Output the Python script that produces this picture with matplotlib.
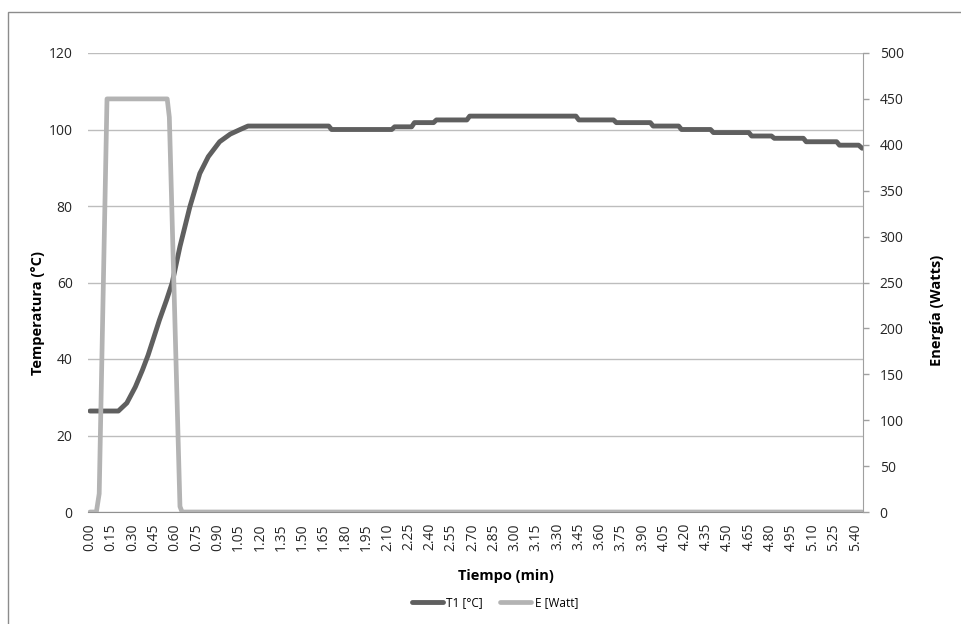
import numpy as np
import matplotlib.pyplot as plt
from matplotlib.patches import Rectangle

plt.rcParams['font.family'] = ['Open Sans', 'DejaVu Sans']

# T1 readings (time in min, temperature in °C)
t_T1 = [0.00, 0.20, 0.26, 0.32, 0.37, 0.41, 0.445, 0.49, 0.54, 0.58, 0.635, 0.705, 0.775, 0.835, 0.915, 0.99, 1.06, 1.115,
        1.685, 1.705, 2.13, 2.15, 2.27, 2.29, 2.425, 2.445, 2.66, 2.68, 3.43, 3.45, 3.695, 3.715, 3.955, 3.975,
        4.155, 4.175, 4.38, 4.40, 4.65, 4.67, 4.81, 4.83, 5.035, 5.055, 5.27, 5.29, 5.425, 5.45]
T1 = [26.4, 26.4, 28.5, 32.7, 37.1, 41.0, 45.0, 50.2, 55.4, 59.9, 69.4, 79.8, 88.5, 92.9, 96.8, 98.8, 100.0, 100.9,
      100.9, 100.0, 100.0, 100.7, 100.7, 101.8, 101.8, 102.5, 102.5, 103.5, 103.5, 102.5, 102.5, 101.8, 101.8, 100.9,
      100.9, 100.0, 100.0, 99.2, 99.2, 98.3, 98.3, 97.7, 97.7, 96.8, 96.8, 95.9, 95.9, 95.1]

# energy readings (time in min, Watts)
t_E = [0.00, 0.045, 0.065, 0.12, 0.545, 0.56, 0.635, 0.65, 5.45]
E = [0, 0, 20, 450, 450, 430, 6, 0, 0]

xticks = [round(i * 0.15, 2) for i in range(37)]
yticks_left = [0, 20, 40, 60, 80, 100, 120]
yticks_right = [0, 50, 100, 150, 200, 250, 300, 350, 400, 450, 500]

fig = plt.figure(figsize=(9.62, 6.24), dpi=100)
W, H = 962, 624
ax = fig.add_axes([88 / W, 1 - 512 / H, 775 / W, 459 / H])
ax2 = ax.twinx()

# chart border
fig.patches.append(Rectangle((8 / W, -0.1), 1.2, 1 - 12 / H + 0.1, transform=fig.transFigure,
                             fill=False, edgecolor='#8c8c8c', lw=1))

ax.plot(t_T1, T1, color='#5f5f5f', lw=3.5, solid_capstyle='round', solid_joinstyle='round', label='T1 [°C]')
ax2.plot(t_E, E, color='#b3b3b3', lw=3.4, solid_capstyle='round', solid_joinstyle='round', label='E [Watt]')

ax.set_xlim(-0.0141, 5.456)
ax.set_ylim(0, 120)
ax2.set_ylim(0, 500)

ax.set_yticks(yticks_left)
ax2.set_yticks(yticks_right)
ax.set_xticks(xticks)
ax.set_xticklabels([f"{v:.2f}" for v in xticks], rotation=90)

ax.grid(axis='y', color='#bdbdbd', lw=1)
ax.set_axisbelow(True)

for a in (ax, ax2):
    for s in ['top', 'left', 'bottom', 'right']:
        a.spines[s].set_visible(False)
ax2.spines['right'].set_visible(True)
ax2.spines['right'].set_color('#a0a0a0')
ax.spines['bottom'].set_visible(True)
ax.spines['bottom'].set_color('#909090')

ax.tick_params(axis='y', length=0, pad=11, labelsize=10, labelcolor='#262626')
ax.tick_params(axis='x', length=0, pad=8, labelsize=10, labelcolor='#262626')
ax2.tick_params(axis='y', length=4, width=1, color='#a0a0a0', pad=8, labelsize=10, labelcolor='#262626')

ax.set_ylabel('Temperatura (°C)', fontweight='bold', fontsize=10.5)
ax.yaxis.set_label_coords(-0.0555, 0.434)
ax2.set_ylabel('Energía (Watts)', fontweight='bold', fontsize=10.5, rotation=90)
ax2.yaxis.set_label_coords(1.0865, 0.44)
ax.set_xlabel('Tiempo (min)', fontweight='bold', fontsize=10.5)
ax.xaxis.set_label_coords(0.539, -0.124)

h1, l1 = ax.get_legend_handles_labels()
h2, l2 = ax2.get_legend_handles_labels()
fig.legend(h1 + h2, l1 + l2, loc='center', bbox_to_anchor=(495 / W, 1 - 603 / H), ncol=2,
           frameon=False, fontsize=8.5, handlelength=2.6, columnspacing=1.5, handletextpad=0.3)

fig.savefig('out.png', dpi=100)
